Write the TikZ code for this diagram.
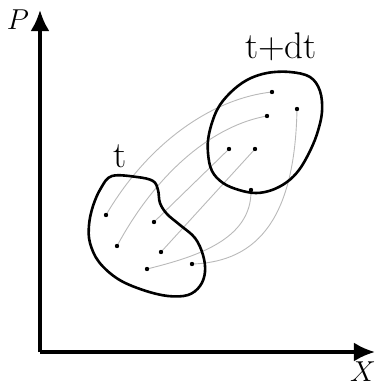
\documentclass[tikz,border=0pt]{standalone}
\usetikzlibrary{arrows.meta}

\begin{document}
\begin{tikzpicture}[x=0.5pt, y=-0.5pt,
    axisline/.style={line width=1.7pt, -{Latex[length=10.5pt,width=9.5pt]}},
    blob/.style={line width=1.3pt},
    flow/.style={gray!55, line width=0.45pt},
    phasept/.style={fill=black},
    bigtext/.style={font=\fontsize{18.5}{22}\selectfont}]

    \useasboundingbox (0,0) rectangle (376,387);

    % =================================================================
    % 1. POINTS
    % =================================================================
    \coordinate (O) at (40,352);
    \coordinate (Ptip) at (40,10);
    \coordinate (Xtip) at (375,352);

    % points at time t
    \coordinate (A) at (106,215);
    \coordinate (B) at (154,222);
    \coordinate (C) at (117,246);
    \coordinate (D) at (161,252);
    \coordinate (E) at (147,269);
    \coordinate (F) at (192,264);

    % points at time t+dt
    \coordinate (a) at (272,92);
    \coordinate (b) at (297,109);
    \coordinate (c) at (267,116);
    \coordinate (d) at (229,149);
    \coordinate (e) at (255,149);
    \coordinate (f) at (251,190);

    % =================================================================
    % 2. TRAJECTORIES
    % =================================================================
    \draw[flow] (A) .. controls (150,140) and (215,98) .. (a);
    \draw[flow] (C) .. controls (158,170) and (215,125) .. (c);
    \draw[flow] (B) -- (d);
    \draw[flow] (D) -- (e);
    \draw[flow] (E) .. controls (195,257) and (252,240) .. (f);
    \draw[flow] (F) .. controls (260,262) and (295,215) .. (b);

    % =================================================================
    % 3. REGIONS
    % =================================================================
    \draw[blob] plot[smooth cycle, tension=0.6] coordinates {
        (112,176) (137,177) (153,181) (158,190) (160,203) (167,214)
        (180,225) (195,238) (203,255) (205,272) (200,286) (188,295)
        (168,296) (143,290) (118,279) (99,262) (90,243) (89,225)
        (93,206) (101,188)};
    \draw[blob] plot[smooth cycle, tension=0.6] coordinates {
        (267,73) (290,72) (310,77) (320,91) (322,112) (317,134)
        (309,153) (299,170) (287,182) (272,190) (256,193) (239,190)
        (223,183) (212,171) (208,153) (209,134) (217,110) (230,93)
        (247,80)};

    % =================================================================
    % 4. POINTS
    % =================================================================
    \foreach \p in {A,B,C,D,E,F,a,b,c,d,e,f}
        \fill[phasept] (\p) circle (1.1pt);

    % =================================================================
    % 5. AXES AND LABELS
    % =================================================================
    \draw[axisline] (O) -- (Ptip);
    \draw[axisline] (O) -- (Xtip);

    \node (Plab) at (18,20) {\Large $P$};
    \node (Xlab) at (363,372) {\Large $X$};
    \node[bigtext, anchor=base] (tlab) at (120,167) {t};
    \node[bigtext, anchor=base] (tdtlab) at (281,58) {t+dt};

\end{tikzpicture}
\end{document}
